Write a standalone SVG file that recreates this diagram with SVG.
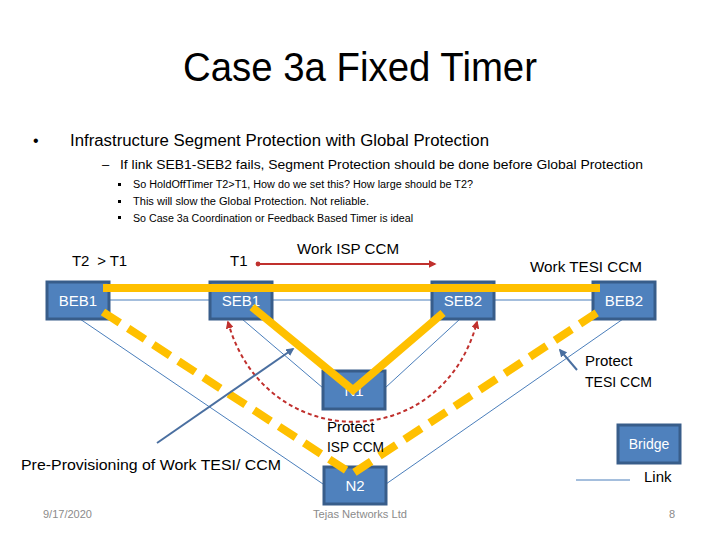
<svg xmlns="http://www.w3.org/2000/svg" width="720" height="540" viewBox="0 0 720 540">
<defs>
<style>
text{font-family:"Liberation Sans","DejaVu Sans",sans-serif;fill:#000}
.title{font-size:40px}
.l1{font-size:16px}
.l2{font-size:13px}
.l3{font-size:10px}
.lab{font-size:15px}
.nt{font-size:15px;fill:#fff;text-anchor:middle}
.foot{font-size:11px;fill:#8b8b8b}
.node{fill:#4F81BD;stroke:#385D8A;stroke-width:3}
.thin{stroke:#4A7EBB;stroke-width:1;fill:none}
.yel{stroke:#FFC000;stroke-width:8;fill:none}
.yeld{stroke:#FFC000;stroke-width:8;fill:none;stroke-dasharray:20 10}
.red{stroke:#C0302D;stroke-width:2;fill:none}
.blue{stroke:#4A6FA0;stroke-width:2;fill:none}
</style>
<marker id="ra" viewBox="0 0 10 10" refX="8" refY="5" markerWidth="4" markerHeight="4" orient="auto-start-reverse"><path d="M0,0 L10,5 L0,10 z" fill="#C0302D"/></marker>
<marker id="rd" viewBox="0 0 10 10" refX="5" refY="5" markerWidth="3" markerHeight="3"><circle cx="5" cy="5" r="4" fill="#C0302D"/></marker>
<marker id="ba" viewBox="0 0 10 10" refX="8" refY="5" markerWidth="4" markerHeight="4" orient="auto"><path d="M0,0 L10,5 L0,10 z" fill="#4A6FA0"/></marker>
</defs>
<rect width="720" height="540" fill="#fff"/>

<text class="title" x="183" y="81" textLength="354" lengthAdjust="spacingAndGlyphs">Case 3a Fixed Timer</text>
<text class="l1" x="33" y="146">•</text>
<text class="l1" x="70" y="146" textLength="419" lengthAdjust="spacingAndGlyphs">Infrastructure Segment Protection with Global Protection</text>
<text class="l2" x="102" y="169">–</text>
<text class="l2" x="120" y="169" textLength="523" lengthAdjust="spacingAndGlyphs">If link SEB1-SEB2 fails, Segment Protection should be done before Global Protection</text>
<g fill="#000">
<rect x="118" y="183" width="3" height="3"/>
<rect x="118" y="200" width="3" height="3"/>
<rect x="118" y="216" width="3" height="3"/>
</g>
<text class="l3" x="133" y="188" textLength="340" lengthAdjust="spacingAndGlyphs">So HoldOffTimer T2&gt;T1, How do we set this? How large should be T2?</text>
<text class="l3" x="133" y="205" textLength="236" lengthAdjust="spacingAndGlyphs">This will slow the Global Protection. Not reliable.</text>
<text class="l3" x="133" y="222" textLength="280" lengthAdjust="spacingAndGlyphs">So Case 3a Coordination or Feedback Based Timer is ideal</text>

<g id="connectors">
<line class="thin" x1="109" y1="300" x2="593" y2="300"/>
<line class="thin" x1="80" y1="319" x2="323" y2="484"/>
<line class="thin" x1="242" y1="319" x2="323" y2="388"/>
<line class="thin" x1="460" y1="319" x2="385" y2="388"/>
<line class="thin" x1="623" y1="319" x2="386" y2="484"/>
<line class="thin" x1="576" y1="480" x2="630" y2="480"/>
</g>

<g id="BEB1"><rect class="node" x="47" y="282" width="62" height="37"/><text class="nt" x="78" y="306">BEB1</text></g>
<g id="SEB1"><rect class="node" x="210" y="282" width="62" height="37"/><text class="nt" x="241" y="306">SEB1</text></g>
<g id="SEB2"><rect class="node" x="432" y="282" width="62" height="37"/><text class="nt" x="463" y="306">SEB2</text></g>
<g id="BEB2"><rect class="node" x="593" y="282" width="62" height="37"/><text class="nt" x="624" y="306">BEB2</text></g>
<g id="N1"><rect class="node" x="323" y="371" width="62" height="38"/><text class="nt" x="354" y="396">N1</text></g>
<g id="N2"><rect class="node" x="324" y="467" width="62" height="37"/><text class="nt" x="355" y="491">N2</text></g>
<g id="Bridge"><rect class="node" x="618" y="425" width="62" height="38"/><text class="nt" x="649" y="449" style="font-size:14px">Bridge</text></g>

<g id="paths">
<line class="yel" x1="103" y1="288" x2="600" y2="288"/>
<polyline class="yel" points="252,307 353,390 443,313" stroke-linejoin="miter"/>
<polyline class="yeld" points="103,312 352,474 598,312"/>
<line class="red" x1="258" y1="264" x2="435" y2="264" marker-start="url(#rd)" marker-end="url(#ra)"/>
<path class="red" d="M228,322 C265,455 442,455 477,322" stroke-dasharray="4 3" marker-start="url(#ra)" marker-end="url(#ra)"/>
<line class="blue" x1="157" y1="443" x2="293" y2="349" marker-end="url(#ba)"/>
<line class="blue" x1="577" y1="370" x2="560" y2="350" marker-end="url(#ba)"/>
</g>

<text class="lab" x="72" y="266" textLength="55" lengthAdjust="spacing" xml:space="preserve">T2  &gt; T1</text>
<text class="lab" x="230" y="266">T1</text>
<text class="lab" x="297" y="254" textLength="102" lengthAdjust="spacingAndGlyphs">Work ISP CCM</text>
<text class="lab" x="530" y="272" textLength="112" lengthAdjust="spacingAndGlyphs">Work TESI CCM</text>
<text class="lab" x="585" y="366">Protect</text>
<text class="lab" x="585" y="387" textLength="67" lengthAdjust="spacingAndGlyphs">TESI CCM</text>
<text class="lab" x="327" y="432">Protect</text>
<text class="lab" x="327" y="452" textLength="57" lengthAdjust="spacingAndGlyphs">ISP CCM</text>
<text class="lab" x="21" y="470" textLength="260" lengthAdjust="spacingAndGlyphs">Pre-Provisioning of Work TESI/ CCM</text>
<text class="lab" x="644" y="482">Link</text>
<text class="foot" x="43" y="518">9/17/2020</text>
<text class="foot" x="313" y="518" textLength="94" lengthAdjust="spacingAndGlyphs">Tejas Networks Ltd</text>
<text class="foot" x="669" y="518">8</text>
</svg>
